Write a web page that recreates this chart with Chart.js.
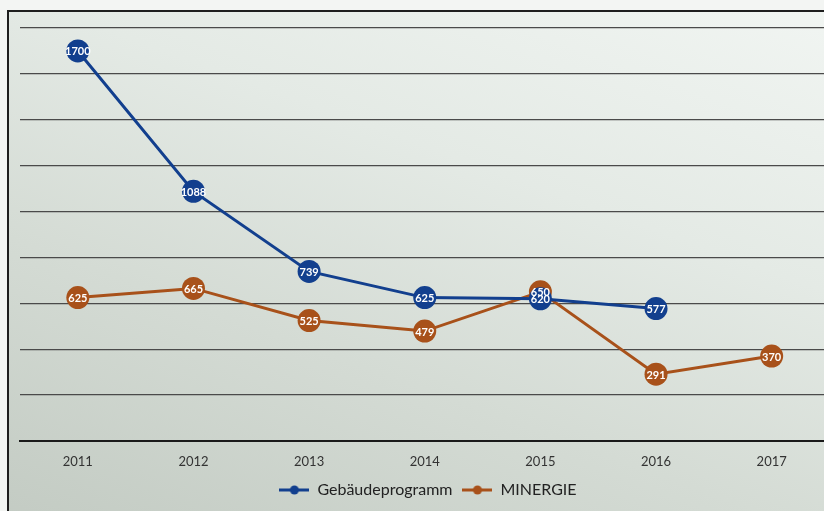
<!DOCTYPE html>
<html>
<head>
<meta charset="utf-8">
<script src="https://cdn.jsdelivr.net/npm/chart.js@4/dist/chart.umd.min.js"></script>
<style>
  html, body { margin: 0; padding: 0; overflow: hidden; background: #f3f5f3; }
  #frame {
    position: absolute; left: 7px; top: 10px; width: 830px; height: 510px;
    border-left: 2px solid #1e1e1e; border-top: 2px solid #1e1e1e;
    background: linear-gradient(20deg, #c3cbc3 0%, #d4dbd4 35%, #e4eae5 65%, #f1f5f2 100%);
  }
  #chart { position: absolute; left: 0; top: 0; }
</style>
</head>
<body>
<div id="frame"></div>
<canvas id="chart" width="841" height="511"></canvas>
<script>
const years = ["2011", "2012", "2013", "2014", "2015", "2016", "2017"];
const gebaeudeprogramm = [1700, 1088, 739, 625, 620, 577, null];
const minergie = [625, 665, 525, 479, 650, 291, 370];
const seriesNames = ["Gebäudeprogramm", "MINERGIE"];
const blue = "#123f8e";
const orange = "#a8511a";
const font = "Lato, 'Open Sans', sans-serif";

// legend marker: line with a dot in the middle
const legendMarker = (color) => {
    const c = document.createElement("canvas");
    c.width = 30; c.height = 12;
    const g = c.getContext("2d");
    g.strokeStyle = color; g.lineWidth = 3;
    g.beginPath(); g.moveTo(0, 6); g.lineTo(30, 6); g.stroke();
    g.fillStyle = color;
    g.beginPath(); g.arc(15, 6, 4.5, 0, Math.PI * 2); g.fill();
    return c;
};

// white value labels inside the points
const valueLabels = {
    id: "valueLabels",
    afterDatasetsDraw(chart) {
        const ctx = chart.ctx;
        ctx.save();
        ctx.font = "bold 11px " + font;
        ctx.fillStyle = "#ffffff";
        ctx.textAlign = "center";
        ctx.textBaseline = "middle";
        chart.data.datasets.forEach((ds, i) => {
            chart.getDatasetMeta(i).data.forEach((pt, j) => {
                if (ds.data[j] == null) return;
                ctx.fillText(ds.data[j], pt.x, pt.y + 1);
            });
        });
        ctx.restore();
    }
};

new Chart(document.getElementById("chart"), {
    type: "line",
    data: {
        labels: years,
        datasets: [
            { label: seriesNames[0], data: gebaeudeprogramm, borderColor: blue, backgroundColor: blue,
              borderWidth: 3, pointRadius: 11.5, pointHoverRadius: 11.5, pointBorderWidth: 0, tension: 0 },
            { label: seriesNames[1], data: minergie, borderColor: orange, backgroundColor: orange,
              borderWidth: 3, pointRadius: 11.5, pointHoverRadius: 11.5, pointBorderWidth: 0, tension: 0 }
        ]
    },
    options: {
        responsive: false,
        animation: false,
        layout: { padding: { left: 20, right: 5, top: 28, bottom: 3 } },
        plugins: {
            tooltip: { enabled: false },
            legend: {
                position: "bottom",
                labels: {
                    usePointStyle: true,
                    pointStyleWidth: 30,
                    color: "#222",
                    font: { family: font, size: 16 },
                    padding: 10,
                    generateLabels: (chart) => chart.data.datasets.map((ds, i) => ({
                        text: ds.label,
                        pointStyle: legendMarker(ds.borderColor),
                        fontColor: "#222",
                        datasetIndex: i,
                        lineWidth: 0
                    }))
                }
            }
        },
        scales: {
            x: {
                offset: true,
                grid: { display: false, drawTicks: false },
                border: { display: true, color: "#1a1a1a", width: 2 },
                ticks: { color: "#333", font: { family: font, size: 13 }, padding: 13 },
                afterFit: (scale) => { scale.height = 31; }
            },
            y: {
                min: 0, max: 1800,
                ticks: { display: false, stepSize: 200 },
                grid: { color: "#4a4a4a", lineWidth: 1.3, drawTicks: false },
                border: { display: false }
            }
        }
    },
    plugins: [valueLabels]
});
</script>
</body>
</html>
